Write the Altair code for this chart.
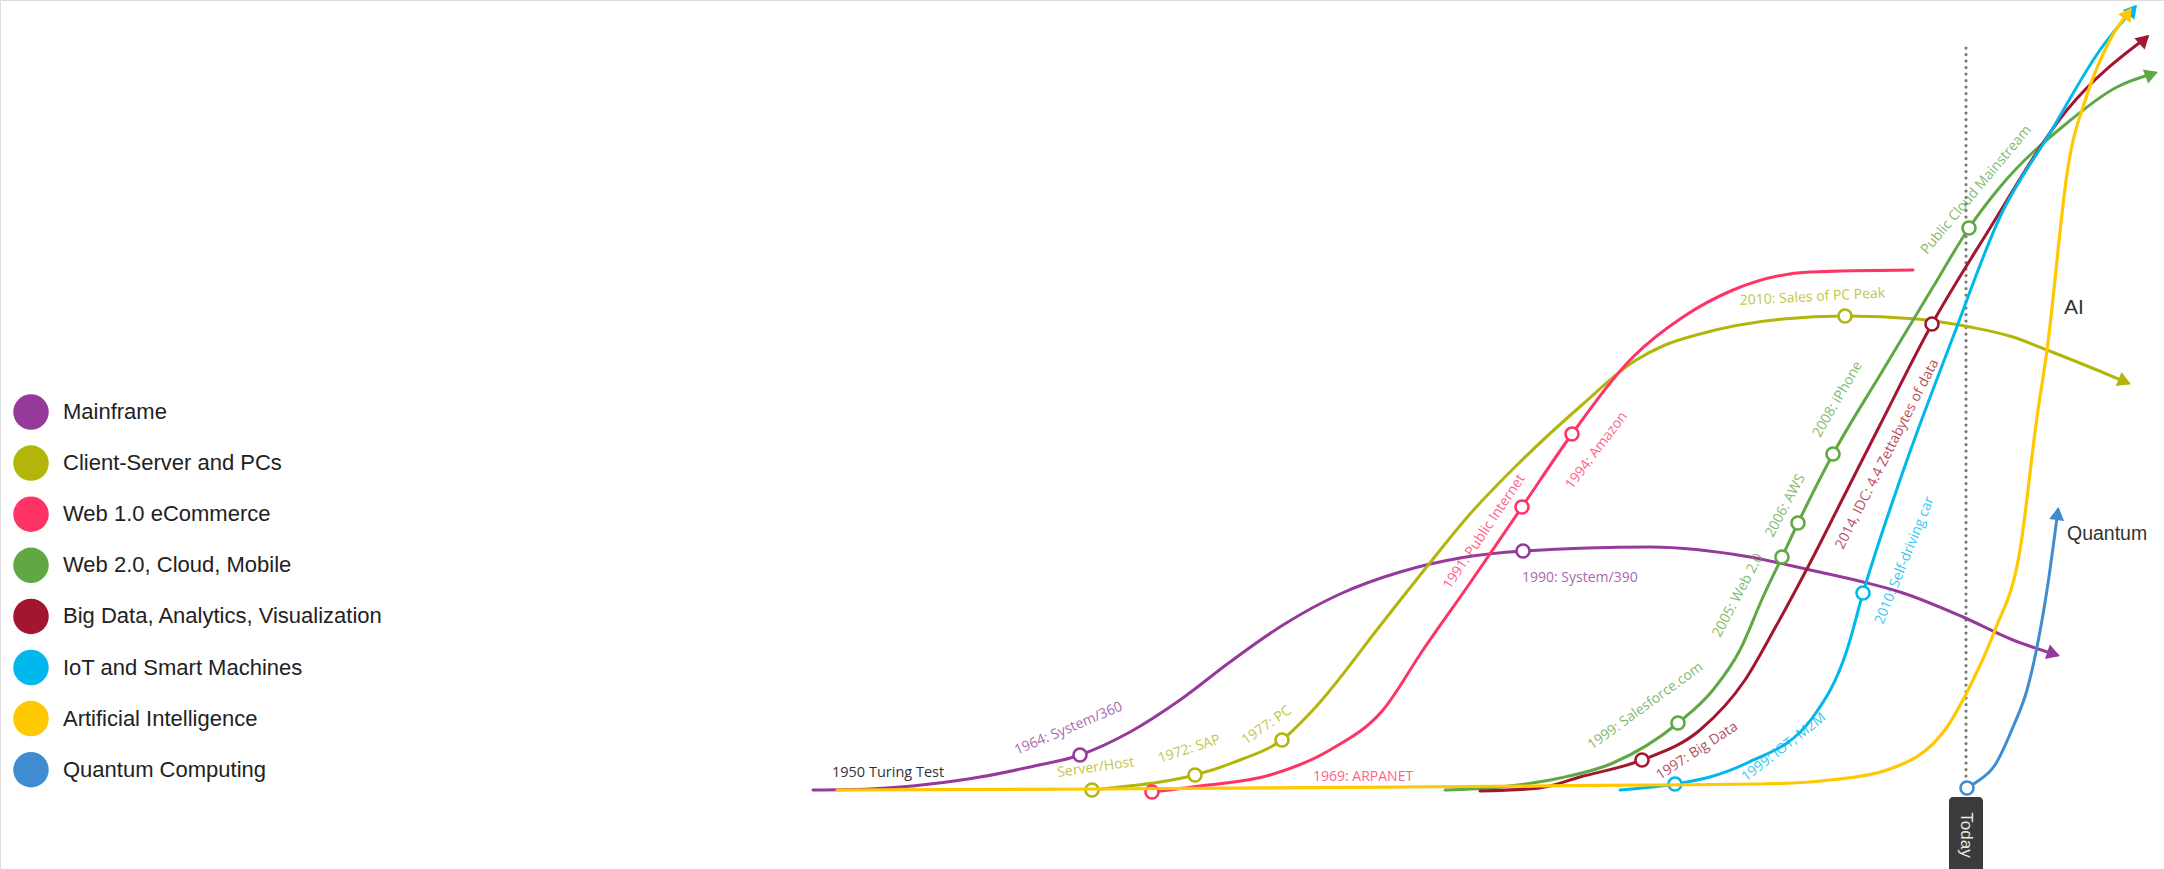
import math
import altair as alt
import pandas as pd

W, H = 2164, 869

series = ["Mainframe", "Client-Server and PCs", "Web 1.0 eCommerce", "Web 2.0, Cloud, Mobile",
          "Big Data, Analytics, Visualization", "IoT and Smart Machines",
          "Artificial Intelligence", "Quantum Computing"]
colors = ["#953a9b", "#b3b50b", "#ff3366", "#5fa843", "#a3162f", "#00b8ec", "#ffc800", "#3f8dd0"]

# curve trace points (x, y in picture units; y grows downward)
mainframe_x = [813, 870, 930, 980, 1030, 1080, 1130, 1180, 1230, 1283, 1340, 1400, 1460, 1523, 1650, 1750, 1810, 1863, 1900, 1963, 2013, 2057]
mainframe_y = [790, 789, 784, 777, 767, 755, 732, 700, 662, 625, 594, 572, 558, 551, 547, 557, 570, 582, 592, 617, 640, 655]

client_x = [1092, 1120, 1160, 1195, 1240, 1282, 1313, 1383, 1425, 1470, 1517, 1583, 1633, 1665, 1700, 1783, 1845, 1917, 1970, 2013, 2047, 2097, 2128]
client_y = [790, 787, 782, 775, 760, 740, 710, 622, 569, 514, 465, 404, 362, 345, 334, 319, 316, 319, 327, 337, 350, 370, 383]

web1_x = [1152, 1200, 1270, 1330, 1383, 1423, 1470, 1522, 1572, 1633, 1683, 1733, 1810, 1913]
web1_y = [792, 786, 775, 750, 710, 650, 583, 507, 434, 357, 317, 290, 272, 270]

web2_x = [1445, 1500, 1560, 1613, 1678, 1713, 1740, 1763, 1782, 1798, 1833, 1880, 1933, 1969, 2000, 2067, 2117, 2155]
web2_y = [790, 787, 778, 763, 723, 690, 650, 597, 557, 523, 454, 375, 287, 228, 187, 123, 87, 73]

bigdata_x = [1480, 1540, 1580, 1642, 1700, 1745, 1775, 1810, 1842, 1880, 1932, 1987, 2067, 2147]
bigdata_y = [791, 788, 777, 760, 730, 680, 628, 563, 500, 425, 324, 233, 110, 37]

iot_x = [1620, 1675, 1710, 1747, 1813, 1847, 1863, 1900, 1953, 2000, 2050, 2100, 2135]
iot_y = [790, 784, 777, 763, 717, 650, 593, 480, 337, 217, 133, 50, 7]

ai_x = [837, 1100, 1400, 1650, 1760, 1830, 1887, 1947, 1973, 1995, 2020, 2037, 2047, 2068, 2087, 2110, 2130]
ai_y = [790, 789, 787, 785, 784, 780, 770, 727, 680, 630, 550, 417, 350, 167, 95, 40, 10]

quantum_x = [1967, 1975, 1995, 2013, 2027, 2037, 2047, 2058]
quantum_y = [788, 783, 765, 727, 690, 647, 590, 510]

curves = {
    "Mainframe": (mainframe_x, mainframe_y, True),
    "Client-Server and PCs": (client_x, client_y, True),
    "Web 1.0 eCommerce": (web1_x, web1_y, False),
    "Web 2.0, Cloud, Mobile": (web2_x, web2_y, True),
    "Big Data, Analytics, Visualization": (bigdata_x, bigdata_y, True),
    "IoT and Smart Machines": (iot_x, iot_y, True),
    "Artificial Intelligence": (ai_x, ai_y, True),
    "Quantum Computing": (quantum_x, quantum_y, True),
}

# milestone circles
milestones = [
    ("Mainframe", 1080, 755), ("Mainframe", 1523, 551),
    ("Client-Server and PCs", 1092, 790), ("Client-Server and PCs", 1195, 775),
    ("Client-Server and PCs", 1282, 740), ("Client-Server and PCs", 1845, 316),
    ("Web 1.0 eCommerce", 1152, 792), ("Web 1.0 eCommerce", 1522, 507), ("Web 1.0 eCommerce", 1572, 434),
    ("Web 2.0, Cloud, Mobile", 1678, 723), ("Web 2.0, Cloud, Mobile", 1782, 557),
    ("Web 2.0, Cloud, Mobile", 1798, 523), ("Web 2.0, Cloud, Mobile", 1833, 454),
    ("Web 2.0, Cloud, Mobile", 1969, 228),
    ("Big Data, Analytics, Visualization", 1642, 760), ("Big Data, Analytics, Visualization", 1932, 324),
    ("IoT and Smart Machines", 1675, 784), ("IoT and Smart Machines", 1863, 593),
    ("Quantum Computing", 1967, 788),
]

# milestone labels: series, text, x, y, angle
labels = [
    ("Mainframe", "1964: System/360", 1017, 755, 337),
    ("Client-Server and PCs", "Server/Host", 1058, 777, 352),
    ("Client-Server and PCs", "1972: SAP", 1160, 763, 342),
    ("Client-Server and PCs", "1977: PC", 1246, 745, 325),
    ("Web 1.0 eCommerce", "1969: ARPANET", 1313, 781, 0),
    ("Web 1.0 eCommerce", "1991: Public Internet", 1450, 590, 304),
    ("Web 1.0 eCommerce", "1994: Amazon", 1572, 490, 307),
    ("Mainframe", "1990: System/390", 1522, 582, 0),
    ("Client-Server and PCs", "2010: Sales of PC Peak", 1740, 305, 357),
    ("Web 2.0, Cloud, Mobile", "Public Cloud Mainstream", 1927, 255, 310),
    ("Web 2.0, Cloud, Mobile", "2008: iPhone", 1820, 438, 300),
    ("Web 2.0, Cloud, Mobile", "2006: AWS", 1773, 538, 298),
    ("Web 2.0, Cloud, Mobile", "2005: Web 2.0", 1720, 638, 298),
    ("Web 2.0, Cloud, Mobile", "1999: Salesforce.com", 1592, 750, 324),
    ("Big Data, Analytics, Visualization", "1997: Big Data", 1660, 780, 327),
    ("Big Data, Analytics, Visualization", "2014, IDC: 4.4 Zettabytes of data", 1843, 550, 297),
    ("IoT and Smart Machines", "1999: IOT, M2M", 1746, 782, 322),
    ("IoT and Smart Machines", "2010: Self-driving car", 1883, 625, 292),
]

# plain dark annotations: text, x, y, size, font
notes = [
    ("1950 Turing Test", 832, 777, 14.5, "Open Sans"),
    ("AI", 2064, 314, 21, "Liberation Sans"),
    ("Quantum", 2067, 540, 19.5, "Liberation Sans"),
]

# "Today" marker
today_x = 1966
today_line_top, today_line_bottom = 48, 778
tag_x0, tag_x1, tag_y0, tag_y1 = 1949, 1983, 797, 869

legend_x = 31
legend_text_x = 63
legend_y0, legend_step = 412, 51.1

# ---------- build tables ----------
rows = []
arrows = []
for s, (cx, cy, arrow) in curves.items():
    for i, (x, y) in enumerate(zip(cx, cy)):
        rows.append({"series": s, "i": i, "x": x, "y": y})
    if arrow:
        dx, dy = cx[-1] - cx[-2], cy[-1] - cy[-2]
        L = math.hypot(dx, dy)
        ux, uy = dx / L, dy / L
        h = math.sqrt(3) / 2 * math.sqrt(230) / 2
        back = h - 3
        arrows.append({"series": s, "x": cx[-1] - ux * back, "y": cy[-1] - uy * back,
                       "angle": math.degrees(math.atan2(dx, -dy)) % 360})
curve_df = pd.DataFrame(rows)
arrow_df = pd.DataFrame(arrows)
ms_df = pd.DataFrame(milestones, columns=["series", "x", "y"])
lab_df = pd.DataFrame(labels, columns=["series", "text", "x", "y", "angle"])
leg_df = pd.DataFrame({"series": series,
                       "x": [legend_x] * len(series),
                       "tx": [legend_text_x] * len(series),
                       "y": [legend_y0 + legend_step * k for k in range(len(series))]})
today_df = pd.DataFrame([{"x": today_x, "y": today_line_top, "y2": today_line_bottom,
                          "x0": tag_x0, "x1": tag_x1, "ty0": tag_y0, "ty1": tag_y1,
                          "tx": (tag_x0 + tag_x1) / 2, "tyc": (tag_y0 + tag_y1) / 2 + 2}])

xs = alt.Scale(domain=[0, W], nice=False, zero=False)
ys = alt.Scale(domain=[0, H], nice=False, zero=False, reverse=True)
cs = alt.Scale(domain=series, range=colors)

X = lambda f="x": alt.X(f"{f}:Q", scale=xs, axis=None)
Y = lambda f="y": alt.Y(f"{f}:Q", scale=ys, axis=None)
C = alt.Color("series:N", scale=cs, legend=None)

non_ai = curve_df[curve_df.series != "Artificial Intelligence"]
ai_only = curve_df[curve_df.series == "Artificial Intelligence"]

lines = alt.Chart(non_ai).mark_line(interpolate="monotone", strokeWidth=3, strokeCap="round").encode(
    x=X(), y=Y(), color=C, detail="series:N", order=alt.Order("i:Q"))
ai_line = alt.Chart(ai_only).mark_line(interpolate="monotone", strokeWidth=3.2, strokeCap="round").encode(
    x=X(), y=Y(), color=C, detail="series:N", order=alt.Order("i:Q"))

dots = alt.Chart(ms_df).mark_point(shape="circle", filled=True, fill="white", strokeWidth=2.6,
                                   size=170, opacity=1).encode(
    x=X(), y=Y(), stroke=alt.Stroke("series:N", scale=cs, legend=None))

heads = alt.Chart(arrow_df).mark_point(shape="triangle-up", filled=True, size=230, opacity=1).encode(
    x=X(), y=Y(), color=C, angle=alt.Angle("angle:Q", scale=None))

lab = alt.Chart(lab_df).mark_text(align="left", baseline="alphabetic", font="Open Sans",
                                  fontSize=14, opacity=0.78).encode(
    x=X(), y=Y(), text="text:N", color=C, angle=alt.Angle("angle:Q", scale=None))

note_layers = []
for t, x, y, sz, fnt in notes:
    d = pd.DataFrame([{"text": t, "x": x, "y": y}])
    note_layers.append(alt.Chart(d).mark_text(align="left", baseline="alphabetic", font=fnt,
                                              fontSize=sz, color="#333333").encode(
        x=X(), y=Y(), text="text:N"))

dotted = alt.Chart(today_df).mark_rule(strokeDash=[0.1, 6.4], strokeCap="round", strokeWidth=3.2,
                                       color="#7a7a7a").encode(x=X(), y=Y(), y2="y2:Q")
tag = alt.Chart(today_df).mark_rect(color="#3b3b3b", cornerRadiusTopLeft=4, cornerRadiusTopRight=4).encode(
    x=X("x0"), x2="x1:Q", y=Y("ty0"), y2="ty1:Q")
tag_text = alt.Chart(today_df).mark_text(text="Today", angle=90, align="center", baseline="middle",
                                         font="Liberation Sans", fontSize=17, color="#e8e8e8").encode(
    x=X("tx"), y=Y("tyc"))

leg_dots = alt.Chart(leg_df).mark_circle(size=1260, opacity=1).encode(x=X(), y=Y(), color=C)
leg_text = alt.Chart(leg_df).mark_text(align="left", baseline="middle", font="Liberation Sans",
                                       fontSize=22, color="#222222").encode(
    x=X("tx"), y=Y(), text="series:N")

chart = alt.layer(
    dotted, lines, dots, ai_line, heads, lab, *note_layers, tag, tag_text, leg_dots, leg_text
).properties(
    width=W, height=H, padding=0, autosize=alt.AutoSizeParams(type="none")
).configure_view(stroke=None).configure(background="white")

chart.save("out.html", embed_options={"renderer": "svg", "actions": False})
